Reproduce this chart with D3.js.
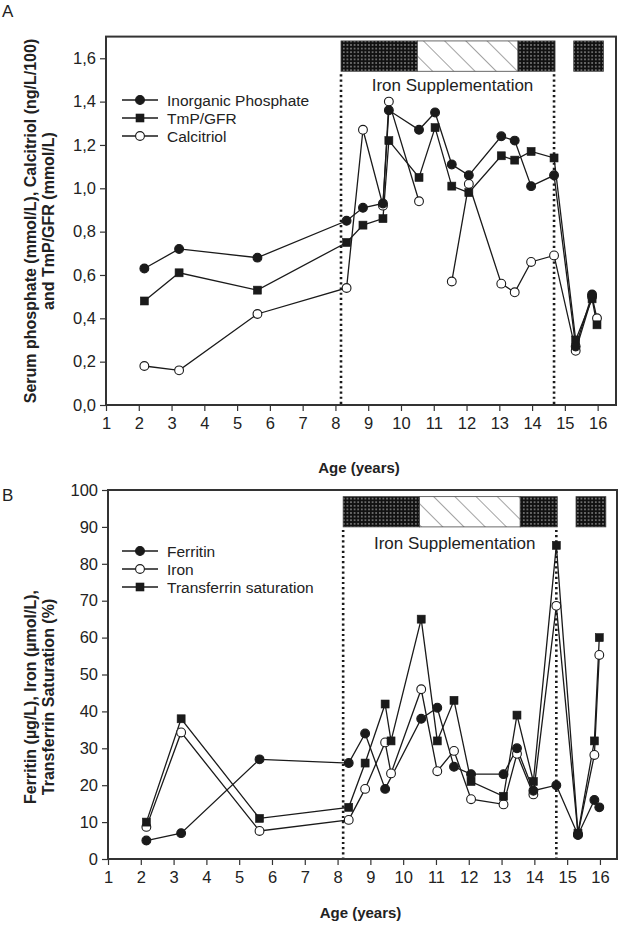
<!DOCTYPE html>
<html><head><meta charset="utf-8">
<script src="https://cdn.jsdelivr.net/npm/d3@7"></script>
<style>
html,body{margin:0;padding:0;background:#fff;}
svg{display:block;font-family:"Liberation Sans",Arial,sans-serif;}
</style></head>
<body>
<svg id="chart" width="620" height="925"></svg>
<script>
// ---------- DATA ----------
const years = [2.17, 3.23, 5.62, 8.34, 8.84, 9.45, 9.63, 10.55, 11.04, 11.55, 12.07, 13.06, 13.47, 13.97, 14.67, 15.33, 15.83, 15.98];
// Panel A
const phosphate  = [0.63, 0.72, 0.68, 0.85, 0.91, 0.93, 1.36, 1.27, 1.35, 1.11, 1.06, 1.24, 1.22, 1.01, 1.06, 0.27, 0.51, null];
const tmpGfr     = [0.48, 0.61, 0.53, 0.75, 0.83, 0.86, 1.22, 1.05, 1.28, 1.01, 0.98, 1.15, 1.13, 1.17, 1.14, 0.30, 0.49, 0.37];
const calcitriol = [0.18, 0.16, 0.42, 0.54, 1.27, 0.92, 1.40, 0.94, null, 0.57, 1.02, 0.56, 0.52, 0.66, 0.69, 0.25, 0.50, 0.40];
// Panel B
const ferritin   = [5, 7, 27, 26, 34, 19, null, 38, 41, 25, 23, 23, 30, 18.5, 20, 6.5, 16, 14];
const iron       = [8.7, 34.3, 7.6, 10.6, 19, 31.6, 23.2, 46, 23.8, 29.3, 16.2, 14.8, 28.5, 17.5, 68.6, 6.8, 28.2, 55.3];
const tsat       = [10, 38, 11, 14, 26, 42, 32, 65, 32, 43, 21, 17, 39, 21, 85, 7, 32, 60];

const xTicks = [1,2,3,4,5,6,7,8,9,10,11,12,13,14,15,16];
const yTicksA = [0, 0.2, 0.4, 0.6, 0.8, 1.0, 1.2, 1.4, 1.6];
const yTicksB = [0, 10, 20, 30, 40, 50, 60, 70, 80, 90, 100];
const suppStart = 8.17, suppEnd = 14.67;
const barSegments = [
  {from: 8.17, to: 10.5, kind: "dots"},
  {from: 10.5, to: 13.57, kind: "hatch"},
  {from: 13.57, to: 14.7, kind: "dots"},
  {from: 15.27, to: 16.18, kind: "dots"}
];
const seriesA = [
  {name: "Calcitriol", values: calcitriol, marker: "open", breakGaps: true},
  {name: "TmP/GFR", values: tmpGfr, marker: "square", breakGaps: false},
  {name: "Inorganic Phosphate", values: phosphate, marker: "filled", breakGaps: false}
];
const legendA = ["Inorganic Phosphate", "TmP/GFR", "Calcitriol"];
const seriesB = [
  {name: "Iron", values: iron, marker: "open", breakGaps: false},
  {name: "Transferrin saturation", values: tsat, marker: "square", breakGaps: false},
  {name: "Ferritin", values: ferritin, marker: "filled", breakGaps: false}
];
const legendB = ["Ferritin", "Iron", "Transferrin saturation"];
const markerOf = {"Inorganic Phosphate":"filled","TmP/GFR":"square","Calcitriol":"open",
                  "Ferritin":"filled","Iron":"open","Transferrin saturation":"square"};

// ---------- DRAW ----------
const svg = d3.select("#chart");
const INK = "#1a1a1a";
const defs = svg.append("defs");
const pd = defs.append("pattern").attr("id","dots").attr("patternUnits","userSpaceOnUse")
  .attr("width",3.6).attr("height",3.6);
pd.append("rect").attr("width",3.6).attr("height",3.6).attr("fill","#111");
pd.append("circle").attr("cx",1.8).attr("cy",1.8).attr("r",0.75).attr("fill","#ddd");
const ph = defs.append("pattern").attr("id","hatch").attr("patternUnits","userSpaceOnUse")
  .attr("width",15).attr("height",15).attr("patternTransform","rotate(-45)");
ph.append("rect").attr("width",15).attr("height",15).attr("fill","#fff");
ph.append("line").attr("x1",0).attr("y1",0).attr("x2",0).attr("y2",15).attr("stroke","#333").attr("stroke-width",0.9);

function drawMarker(g, type, cx, cy) {
  if (type === "square") {
    g.append("rect").attr("x",cx-4).attr("y",cy-4).attr("width",8).attr("height",8)
      .attr("fill",INK).attr("stroke",INK).attr("stroke-width",0.6);
  } else {
    g.append("circle").attr("cx",cx).attr("cy",cy).attr("r",4.4)
      .attr("fill", type === "filled" ? INK : "#fff").attr("stroke",INK).attr("stroke-width",1.1);
  }
}

function panel(opt) {
  const {left, right, top, bottom, xDomainMax, yDomain, yTicks, fmt, series, legend, legendY, barRange, textY, letter, letterY, titleLines, titleCenterY, xTitleY} = opt;
  const x = d3.scaleLinear().domain([1, xDomainMax]).range([left, right]);
  const y = d3.scaleLinear().domain(yDomain).range([bottom, top]);
  const g = svg.append("g");

  // intervention bars
  barSegments.forEach(s => {
    g.append("rect").attr("x", x(s.from)).attr("y", y(barRange[1]))
      .attr("width", x(s.to) - x(s.from)).attr("height", y(barRange[0]) - y(barRange[1]))
      .attr("fill", s.kind === "dots" ? "url(#dots)" : "url(#hatch)")
      .attr("stroke", "#444").attr("stroke-width", 0.8);
  });
  // dotted lines
  [suppStart, suppEnd].forEach(v => {
    g.append("line").attr("x1", x(v)).attr("x2", x(v))
      .attr("y1", y(barRange[0]) + 3).attr("y2", bottom)
      .attr("stroke", INK).attr("stroke-width", 2.6).attr("stroke-dasharray", "2.2,3");
  });
  g.append("text").attr("x", (x(suppStart) + x(suppEnd)) / 2 + 5).attr("y", textY)
    .attr("text-anchor","middle").attr("font-size",17).attr("fill","#222").text("Iron Supplementation");

  // series
  series.forEach(s => {
    const pts = years.map((yr, i) => ({x: yr, v: s.values[i]}));
    const line = d3.line().x(d => x(d.x)).y(d => y(d.v));
    let data;
    if (s.breakGaps) { line.defined(d => d.v != null); data = pts; }
    else data = pts.filter(d => d.v != null);
    g.append("path").attr("d", line(data)).attr("fill","none").attr("stroke",INK).attr("stroke-width",1.3);
  });
  series.forEach(s => {
    years.forEach((yr, i) => {
      if (s.values[i] != null) drawMarker(g, s.marker, x(yr), y(s.values[i]));
    });
  });

  // frame
  g.append("rect").attr("x", left).attr("y", top).attr("width", right - left).attr("height", bottom - top)
    .attr("fill","none").attr("stroke","#333").attr("stroke-width",2);

  // axes
  const xa = g.append("g").attr("transform", `translate(0,${bottom})`)
    .call(d3.axisBottom(x).tickValues(xTicks).tickSize(6).tickPadding(6).tickFormat(d3.format("d")));
  const ya = g.append("g").attr("transform", `translate(${left},0)`)
    .call(d3.axisLeft(y).tickValues(yTicks).tickSize(6).tickPadding(4).tickFormat(fmt));
  [xa, ya].forEach(a => {
    a.select(".domain").remove();
    a.selectAll("line").attr("stroke","#333").attr("stroke-width",1.2);
    a.selectAll("text").attr("font-size",16.5).attr("fill","#222").attr("font-family","'Liberation Sans',Arial,sans-serif");
  });

  // axis titles
  g.append("text").attr("x", (left + right) / 2 - 2).attr("y", xTitleY).attr("text-anchor","middle")
    .attr("font-size",15).attr("font-weight","bold").attr("fill","#222").text("Age (years)");
  titleLines.forEach((t, i) => {
    g.append("text").attr("transform", `translate(${36 + i*18},${titleCenterY}) rotate(-90)`)
      .attr("text-anchor","middle").attr("font-size",16).attr("font-weight","bold").attr("fill","#222").text(t);
  });

  // legend
  legend.forEach((name, i) => {
    const ly = legendY + i * 18;
    g.append("line").attr("x1",122).attr("x2",158).attr("y1",ly).attr("y2",ly).attr("stroke",INK).attr("stroke-width",1.3);
    drawMarker(g, markerOf[name], 140, ly);
    g.append("text").attr("x",167).attr("y",ly + 5.5).attr("font-size",15.5).attr("fill","#222").text(name);
  });

  svg.append("text").attr("x",2).attr("y",letterY).attr("font-size",17).attr("fill","#222").text(letter);
}

const commaFmt = d => d3.format(".1f")(d).replace(".", ",");

panel({left:106, right:616, top:36.6, bottom:405, xDomainMax:16.56, yDomain:[0,1.7], yTicks:yTicksA, fmt:commaFmt,
  series:seriesA, legend:legendA, legendY:100, barRange:[1.54,1.68], textY:91, letter:"A", letterY:17,
  titleLines:["Serum phosphate (mmol/L), Calcitriol (ng/L/100)", "and TmP/GFR (mmol/L)"], titleCenterY:221, xTitleY:473});

panel({left:108, right:617, top:490, bottom:859, xDomainMax:16.52, yDomain:[0,100], yTicks:yTicksB, fmt:d3.format("d"),
  series:seriesB, legend:legendB, legendY:551, barRange:[90,98.2], textY:549, letter:"B", letterY:501,
  titleLines:["Ferritin (µg/L), Iron (µmol/L),", "Transferrin Saturation (%)"], titleCenterY:697, xTitleY:918});
</script>
</body></html>
